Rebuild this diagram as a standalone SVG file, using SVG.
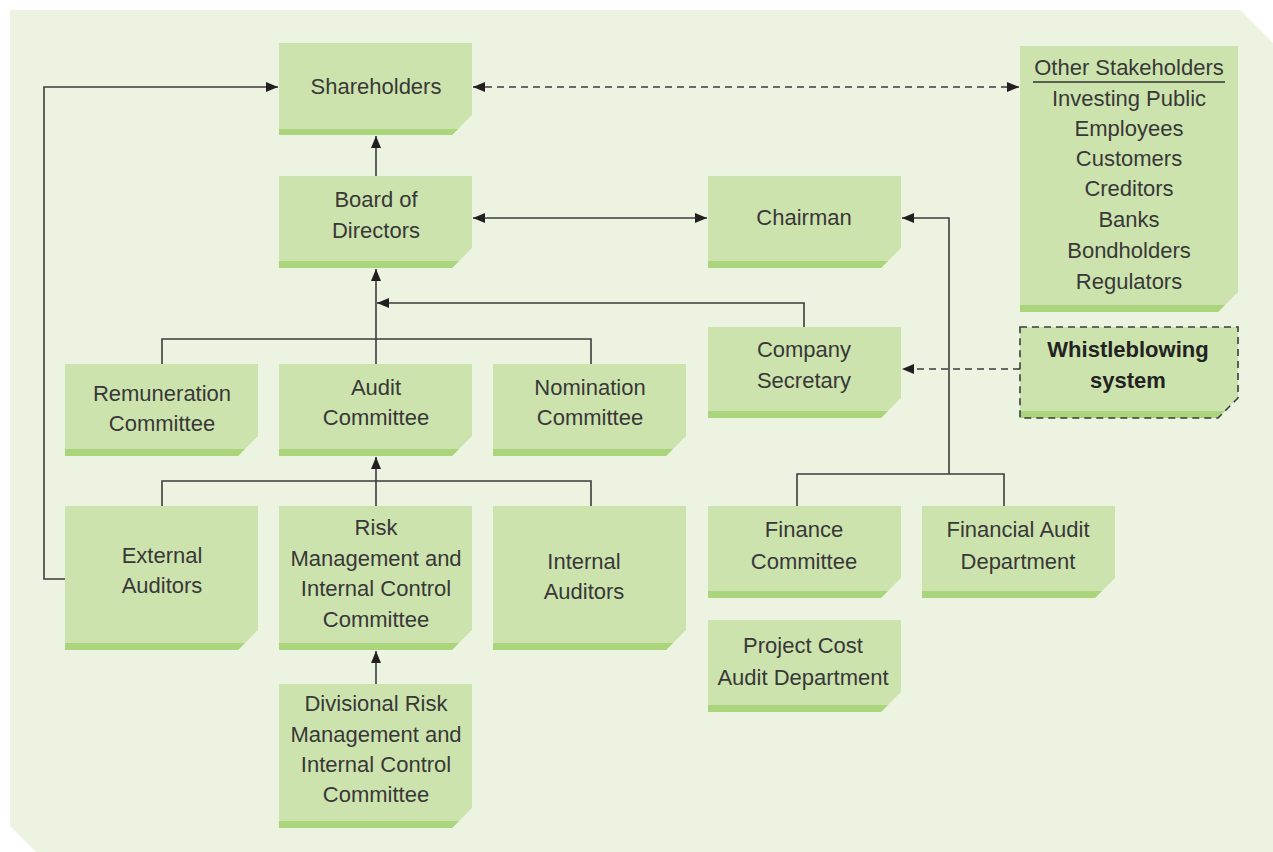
<svg xmlns="http://www.w3.org/2000/svg" width="1273" height="852" viewBox="0 0 1273 852">
<style>
.box{fill:#CDE3AD}
.strip{fill:#ABD57C}
.t{font-family:"Liberation Sans",Arial,sans-serif;font-size:22px;fill:#383838;text-anchor:middle}
.b{font-weight:bold;fill:#222222}
.ln{fill:none;stroke:#3d3d3d;stroke-width:1.6}
.dash{stroke-dasharray:7 5}
</style>
<defs>
<marker id="ah" viewBox="0 0 12 10" refX="12" refY="5" markerWidth="12" markerHeight="10" markerUnits="userSpaceOnUse" orient="auto-start-reverse">
<path d="M0,0 L12,5 L0,10 Z" fill="#231f20"/>
</marker>
</defs>
<rect width="1273" height="852" fill="#ffffff"/>
<path d="M10,10 H1240 L1273,43 V852 H36 L10,826 Z" fill="#ECF3E0"/>

<g id="connectors">
<path class="ln dash" d="M473,87 H1019" marker-start="url(#ah)" marker-end="url(#ah)"/>
<path class="ln" d="M376,176 V136" marker-end="url(#ah)"/>
<path class="ln" d="M473,218 H707" marker-start="url(#ah)" marker-end="url(#ah)"/>
<path class="ln" d="M376,364 V269" marker-end="url(#ah)"/>
<path class="ln" d="M804,327 V303 H377" marker-end="url(#ah)"/>
<path class="ln" d="M162,364 V339 H591 V364"/>
<path class="ln" d="M376,506 V457" marker-end="url(#ah)"/>
<path class="ln" d="M162,506 V481 H591 V506"/>
<path class="ln" d="M376,684 V651" marker-end="url(#ah)"/>
<path class="ln" d="M65,579 H44 V87 H278" marker-end="url(#ah)"/>
<path class="ln" d="M797,506 V474 H1004 V506 M949,474 V218 H902" marker-end="url(#ah)"/>
<path class="ln dash" d="M1020,369 H902" marker-end="url(#ah)"/>
</g>

<g id="shareholders">
<path class="box" d="M279,43 H472 V115 L452,135 H279 Z"/>
<path class="strip" d="M279,129 H458 L452,135 H279 Z"/>
<text class="t" x="376" y="94">Shareholders</text>
</g>

<g id="board">
<path class="box" d="M279,176 H472 V248 L452,268 H279 Z"/>
<path class="strip" d="M279,261 H459 L452,268 H279 Z"/>
<text class="t" x="376" y="207">Board of</text>
<text class="t" x="376" y="238">Directors</text>
</g>

<g id="chairman">
<path class="box" d="M708,176 H901 V248 L881,268 H708 Z"/>
<path class="strip" d="M708,261 H888 L881,268 H708 Z"/>
<text class="t" x="804" y="225">Chairman</text>
</g>

<g id="stakeholders">
<path class="box" d="M1020,46 H1238 V292 L1218,312 H1020 Z"/>
<path class="strip" d="M1020,305 H1225 L1218,312 H1020 Z"/>
<text class="t" x="1129" y="75">Other Stakeholders</text>
<line x1="1033" y1="82" x2="1225" y2="82" stroke="#333333" stroke-width="1.6"/>
<text class="t" x="1129" y="106">Investing Public</text>
<text class="t" x="1129" y="136">Employees</text>
<text class="t" x="1129" y="166">Customers</text>
<text class="t" x="1129" y="196">Creditors</text>
<text class="t" x="1129" y="227">Banks</text>
<text class="t" x="1129" y="258">Bondholders</text>
<text class="t" x="1129" y="289">Regulators</text>
</g>

<g id="remuneration">
<path class="box" d="M65,364 H258 V436 L238,456 H65 Z"/>
<path class="strip" d="M65,449 H245 L238,456 H65 Z"/>
<text class="t" x="162" y="401">Remuneration</text>
<text class="t" x="162" y="431">Committee</text>
</g>

<g id="audit">
<path class="box" d="M279,364 H472 V436 L452,456 H279 Z"/>
<path class="strip" d="M279,449 H459 L452,456 H279 Z"/>
<text class="t" x="376" y="395">Audit</text>
<text class="t" x="376" y="425">Committee</text>
</g>

<g id="nomination">
<path class="box" d="M493,364 H686 V436 L666,456 H493 Z"/>
<path class="strip" d="M493,449 H673 L666,456 H493 Z"/>
<text class="t" x="590" y="395">Nomination</text>
<text class="t" x="590" y="425">Committee</text>
</g>

<g id="secretary">
<path class="box" d="M708,327 H901 V398 L881,418 H708 Z"/>
<path class="strip" d="M708,411 H888 L881,418 H708 Z"/>
<text class="t" x="804" y="357">Company</text>
<text class="t" x="804" y="388">Secretary</text>
</g>

<g id="whistleblowing">
<path class="box" d="M1020,327 H1238 V398 L1218,418 H1020 Z"/>
<path class="strip" d="M1020,411 H1225 L1218,418 H1020 Z"/>
<path class="ln dash" d="M1020,327 H1238 V398 L1218,418 H1020 Z" stroke="#222222" stroke-width="1.3"/>
<text class="t b" x="1128" y="357">Whistleblowing</text>
<text class="t b" x="1128" y="388">system</text>
</g>

<g id="external">
<path class="box" d="M65,506 H258 V630 L238,650 H65 Z"/>
<path class="strip" d="M65,643 H245 L238,650 H65 Z"/>
<text class="t" x="162" y="563">External</text>
<text class="t" x="162" y="593">Auditors</text>
</g>

<g id="risk">
<path class="box" d="M279,506 H472 V630 L452,650 H279 Z"/>
<path class="strip" d="M279,643 H459 L452,650 H279 Z"/>
<text class="t" x="376" y="535">Risk</text>
<text class="t" x="376" y="566">Management and</text>
<text class="t" x="376" y="596">Internal Control</text>
<text class="t" x="376" y="627">Committee</text>
</g>

<g id="internal">
<path class="box" d="M493,506 H686 V630 L666,650 H493 Z"/>
<path class="strip" d="M493,643 H673 L666,650 H493 Z"/>
<text class="t" x="584" y="569">Internal</text>
<text class="t" x="584" y="599">Auditors</text>
</g>

<g id="finance">
<path class="box" d="M708,506 H901 V578 L881,598 H708 Z"/>
<path class="strip" d="M708,591 H888 L881,598 H708 Z"/>
<text class="t" x="804" y="537">Finance</text>
<text class="t" x="804" y="569">Committee</text>
</g>

<g id="financial-audit">
<path class="box" d="M922,506 H1115 V578 L1095,598 H922 Z"/>
<path class="strip" d="M922,591 H1102 L1095,598 H922 Z"/>
<text class="t" x="1018" y="537">Financial Audit</text>
<text class="t" x="1018" y="569">Department</text>
</g>

<g id="project-cost">
<path class="box" d="M708,620 H901 V692 L881,712 H708 Z"/>
<path class="strip" d="M708,705 H888 L881,712 H708 Z"/>
<text class="t" x="803" y="653">Project Cost</text>
<text class="t" x="803" y="685">Audit Department</text>
</g>

<g id="divisional">
<path class="box" d="M279,684 H472 V808 L452,828 H279 Z"/>
<path class="strip" d="M279,821 H459 L452,828 H279 Z"/>
<text class="t" x="376" y="711">Divisional Risk</text>
<text class="t" x="376" y="742">Management and</text>
<text class="t" x="376" y="772">Internal Control</text>
<text class="t" x="376" y="802">Committee</text>
</g>
</svg>
